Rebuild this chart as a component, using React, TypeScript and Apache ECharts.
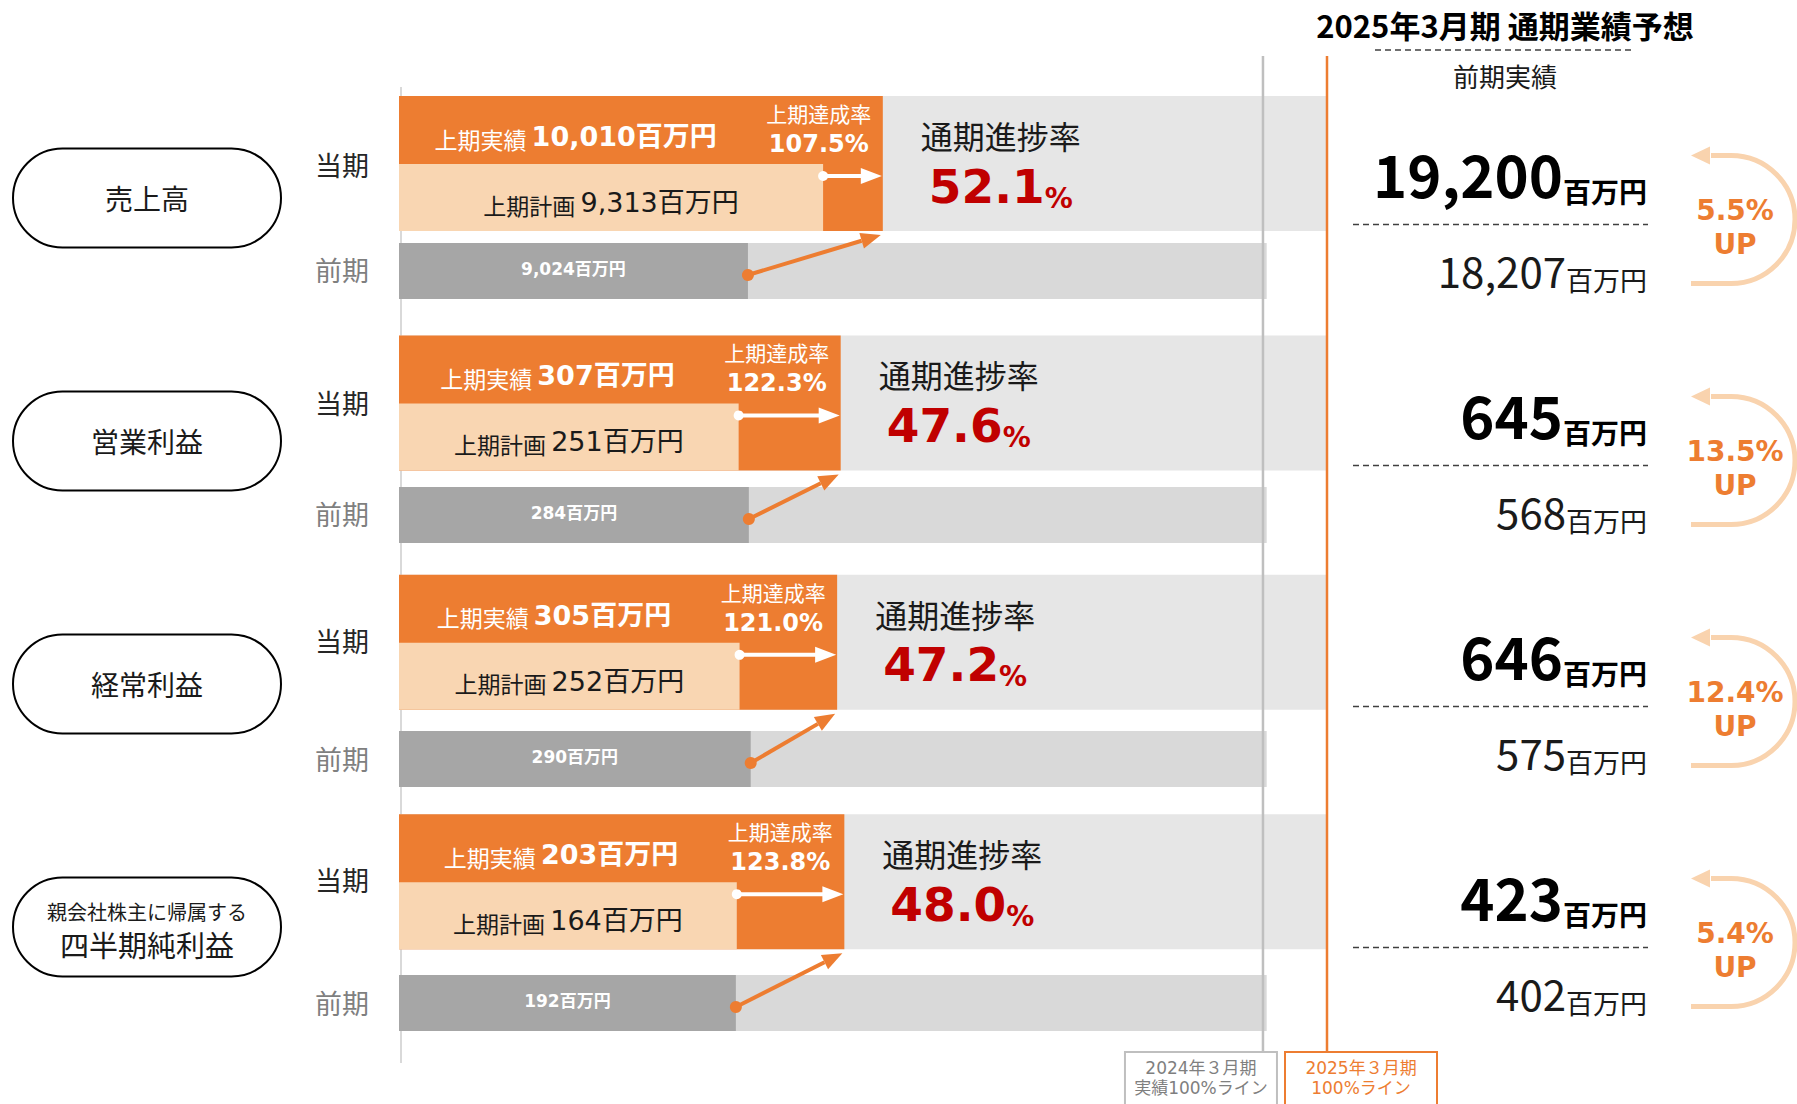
import React, { useEffect, useRef } from 'react';
import * as echarts from 'echarts';

const FONT = "'Noto Sans CJK JP', 'Noto Sans', sans-serif";
const FONT_WIDE = "'DejaVu Sans', 'Noto Sans CJK JP', sans-serif";
const ORANGE = '#ED7D31';
const PEACH = '#F9D6B2';
const DARKRED = '#C00000';
const ARROW_PEACH = '#F9D3AE';

// ---- data ----
const METRICS = ['売上高', '営業利益', '経常利益', '四半期純利益'];
const METRIC_NOTES = ['', '', '', '親会社株主に帰属する'];
const CURRENT_LABEL = '当期';
const PREV_LABEL = '前期';
const H1_ACTUAL = [10010, 307, 305, 203];
const H1_PLAN = [9313, 251, 252, 164];
const H1_PREV = [9024, 284, 290, 192];
const H1_ACHIEVEMENT = [107.5, 122.3, 121.0, 123.8];
const FY_PROGRESS = [52.1, 47.6, 47.2, 48.0];
const FY_FORECAST = [19200, 645, 646, 423];
const FY_PREV = [18207, 568, 575, 402];
const FY_GROWTH = [5.5, 13.5, 12.4, 5.4];
// plan / previous-year bar lengths as drawn in the picture, in % of the 2025 100% line
const BAR_PLAN = [45.7, 36.6, 36.7, 36.4];
const BAR_PREV = [37.6, 37.7, 37.9, 36.3];
const PREV_TRACK = 93.5;
const REF_LINES = [93.1, 100];
const REF_LABELS = [
  ['2024年３月期', '実績100%ライン'],
  ['2025年３月期', '100%ライン'],
];
const TITLE = '2025年3月期 通期業績予想';
const SUBTITLE = '前期実績';
const UNIT = '百万円';

const fmt = (v: number) => v.toLocaleString('en-US');

function txt(x: number, y: number, style: any, extra: any = {}) {
  return {
    type: 'text',
    x,
    y,
    style: { fontFamily: FONT, align: 'center', verticalAlign: 'middle', ...style },
    ...extra,
  };
}

function renderMetric(params: any, api: any) {
  const i = params.dataIndex;
  const cs = params.coordSys;
  const c0 = api.coord([0, i]);
  const x0 = c0[0];
  const cy = c0[1];
  const px = (v: number) => api.coord([v, i])[0];
  // H1 actual drawn to scale against the full-year forecast
  const xA = px((H1_ACTUAL[i] / FY_FORECAST[i]) * 100);
  const xP = px(BAR_PLAN[i]);
  const xV = px(BAR_PREV[i]);
  const x100 = px(100);
  const xTrack = px(PREV_TRACK);
  const top = cy - 101.5 - 1.6 * i;
  const h = 135;
  const planTop = top + 68;
  const prevTop = cy + 45.5 + 3 * i;
  const ph = 56;
  const els: any[] = [];

  if (i === 0) {
    els.push({
      type: 'line',
      shape: { x1: x0 + 2, y1: cs.y + 10, x2: x0 + 2, y2: cs.y + cs.height + 22 },
      style: { stroke: '#D9D9D9', lineWidth: 2 },
    });
  }
  // tracks
  els.push({ type: 'rect', shape: { x: x0, y: top, width: x100 - x0, height: h }, style: { fill: '#E6E6E6' } });
  els.push({ type: 'rect', shape: { x: x0, y: prevTop, width: xTrack - x0, height: ph }, style: { fill: '#D9D9D9' } });
  // bars
  els.push({ type: 'rect', shape: { x: x0, y: top, width: xA - x0, height: h }, style: { fill: ORANGE } });
  els.push({ type: 'rect', shape: { x: x0, y: planTop, width: xP - x0, height: top + h - planTop }, style: { fill: PEACH } });
  els.push({ type: 'rect', shape: { x: x0, y: prevTop, width: xV - x0, height: ph }, style: { fill: '#A6A6A6' } });

  // white arrow plan -> actual
  const ay = top + 80;
  els.push({ type: 'line', shape: { x1: xP, y1: ay, x2: xA - 20, y2: ay }, style: { stroke: '#fff', lineWidth: 4 } });
  els.push({ type: 'polygon', shape: { points: [[xA - 1, ay], [xA - 22, ay - 8], [xA - 22, ay + 8]] }, style: { fill: '#fff' } });
  els.push({ type: 'circle', shape: { cx: xP, cy: ay, r: 5 }, style: { fill: '#fff' } });

  // orange arrow prev -> actual
  const sx = xV, sy = prevTop + 32, ex = xA - 2, ey = top + h + 4;
  const dx = ex - sx, dy = ey - sy;
  const len = Math.hypot(dx, dy);
  const ux = dx / len, uy = dy / len;
  const bx = ex - ux * 20, by = ey - uy * 20;
  els.push({ type: 'line', shape: { x1: sx, y1: sy, x2: bx, y2: by }, style: { stroke: ORANGE, lineWidth: 4 } });
  els.push({
    type: 'polygon',
    shape: { points: [[ex, ey], [bx - uy * 8, by + ux * 8], [bx + uy * 8, by - ux * 8]] },
    style: { fill: ORANGE },
  });
  els.push({ type: 'circle', shape: { cx: sx, cy: sy, r: 6 }, style: { fill: ORANGE } });

  // labels in bars
  els.push(txt(xA - 166, top + 37, {
    text: `{a|上期実績 }{b|${fmt(H1_ACTUAL[i])}${UNIT}}`,
    align: 'right',
    rich: {
      a: { fontFamily: FONT, fontSize: 23, fill: '#fff', lineHeight: 34, verticalAlign: 'bottom' },
      b: { fontFamily: FONT_WIDE, fontSize: 27, fontWeight: 'bold', fill: '#fff', lineHeight: 34, verticalAlign: 'bottom' },
    },
  }));
  els.push(txt(xA - 64, top + 17, { text: '上期達成率', fontSize: 21, fill: '#fff', lineHeight: 24 }));
  els.push(txt(xA - 64, top + 48, {
    text: `${H1_ACHIEVEMENT[i].toFixed(1)}%`,
    fontFamily: FONT_WIDE, fontSize: 24, fontWeight: 'bold', fill: '#fff', lineHeight: 28,
  }));
  els.push(txt((x0 + xP) / 2, top + 103, {
    text: `{a|上期計画 }{b|${fmt(H1_PLAN[i])}${UNIT}}`,
    rich: {
      a: { fontFamily: FONT, fontSize: 23, fill: '#1A1A1A', lineHeight: 34, verticalAlign: 'bottom' },
      b: { fontFamily: FONT_WIDE, fontSize: 27, fill: '#1A1A1A', lineHeight: 34, verticalAlign: 'bottom' },
    },
  }));
  els.push(txt((x0 + xV) / 2, prevTop + 26, {
    text: `${fmt(H1_PREV[i])}${UNIT}`,
    fontFamily: FONT_WIDE, fontSize: 17, fontWeight: 'bold', fill: '#fff',
  }));

  // full year progress
  els.push(txt(xA + 118, top + 39, { text: '通期進捗率', fontSize: 32, fill: '#1A1A1A', lineHeight: 36 }));
  els.push(txt(xA + 118, top + 90, {
    text: `{v|${FY_PROGRESS[i].toFixed(1)}}{p|%}`,
    rich: {
      v: { fontFamily: FONT_WIDE, fontSize: 47, fontWeight: 'bold', fill: DARKRED, lineHeight: 52 },
      p: { fontFamily: FONT_WIDE, fontSize: 28, fontWeight: 'bold', fill: DARKRED, lineHeight: 40, verticalAlign: 'bottom' },
    },
  }));

  // left labels
  const pillY = cy + 0.5 + 2 * i;
  els.push({
    type: 'rect',
    shape: { x: x0 - 386, y: pillY - 49.5, width: 268, height: 99, r: 49.5 },
    style: { fill: '#fff', stroke: '#000', lineWidth: 2 },
  });
  if (METRIC_NOTES[i]) {
    els.push(txt(x0 - 252, pillY - 16, { text: METRIC_NOTES[i], fontSize: 20, fill: '#1A1A1A', lineHeight: 24 }));
    els.push(txt(x0 - 252, pillY + 17, { text: METRICS[i], fontSize: 29, fill: '#1A1A1A', lineHeight: 32 }));
  } else {
    els.push(txt(x0 - 252, pillY, { text: METRICS[i], fontSize: 28, fill: '#1A1A1A' }));
  }
  els.push(txt(x0 - 57, cy - 33.5 - 2.6 * i, { text: CURRENT_LABEL, fontSize: 27, fill: '#262626' }));
  els.push(txt(x0 - 57, cy + 72 + 3.3 * i, { text: PREV_LABEL, fontSize: 27, fill: '#7F7F7F' }));

  // right panel
  const rx = x100 + 320;
  els.push(txt(rx, cy - 25, {
    text: `{n|${fmt(FY_FORECAST[i])}}{u|${UNIT}}`,
    align: 'right',
    rich: {
      n: { fontFamily: FONT, fontSize: 58, fontWeight: 'bold', fill: '#000', lineHeight: 64 },
      u: { fontFamily: FONT, fontSize: 28, fontWeight: 'bold', fill: '#000', lineHeight: 48, verticalAlign: 'bottom' },
    },
  }));
  els.push({
    type: 'line',
    shape: { x1: x100 + 26, y1: cy + 27, x2: x100 + 321, y2: cy + 27 },
    style: { stroke: '#404040', lineWidth: 1.5, lineDash: [6, 4] },
  });
  els.push(txt(rx, cy + 72, {
    text: `{n|${fmt(FY_PREV[i])}}{u|${UNIT}}`,
    align: 'right',
    rich: {
      n: { fontFamily: FONT, fontSize: 42, fill: '#1A1A1A', lineHeight: 46 },
      u: { fontFamily: FONT, fontSize: 27, fill: '#1A1A1A', lineHeight: 43, verticalAlign: 'bottom' },
    },
  }));
  // curved arrow
  const acx = x100 + 404, acy = cy + 22, ar = 64;
  els.push({
    type: 'arc',
    shape: { cx: acx, cy: acy, r: ar, startAngle: -Math.PI / 2, endAngle: Math.PI / 2, clockwise: true },
    style: { stroke: ARROW_PEACH, lineWidth: 5, fill: 'none' },
  });
  els.push({ type: 'line', shape: { x1: acx, y1: acy + ar, x2: acx - 40, y2: acy + ar }, style: { stroke: ARROW_PEACH, lineWidth: 5 } });
  els.push({ type: 'line', shape: { x1: acx, y1: acy - ar, x2: acx - 20, y2: acy - ar }, style: { stroke: ARROW_PEACH, lineWidth: 5 } });
  els.push({
    type: 'polygon',
    shape: { points: [[acx - 40, acy - ar], [acx - 21, acy - ar - 9], [acx - 21, acy - ar + 9]] },
    style: { fill: ARROW_PEACH },
  });
  els.push(txt(x100 + 408, cy + 13, {
    text: `${FY_GROWTH[i].toFixed(1)}%`, fontFamily: FONT_WIDE, fontSize: 28, fontWeight: 'bold', fill: ORANGE, lineHeight: 30,
  }));
  els.push(txt(x100 + 408, cy + 47, {
    text: 'UP', fontFamily: FONT_WIDE, fontSize: 28, fontWeight: 'bold', fill: ORANGE, lineHeight: 30,
  }));

  return { type: 'group', children: els };
}

function renderRefLine(params: any, api: any) {
  const i = params.dataIndex;
  const cs = params.coordSys;
  const x = api.coord([api.value(0), 0])[0];
  const isCur = i === 1;
  const color = isCur ? ORANGE : '#BFBFBF';
  const textColor = isCur ? ORANGE : '#7F7F7F';
  const boxX = isCur ? x - 42 : x - 138;
  const boxY = cs.y + cs.height + 11;
  return {
    type: 'group',
    children: [
      {
        type: 'line',
        shape: { x1: x, y1: cs.y - 21, x2: x, y2: boxY },
        style: { stroke: color, lineWidth: 2.5 },
      },
      {
        type: 'rect',
        shape: { x: boxX, y: boxY, width: 152, height: 60 },
        style: { fill: '#fff', stroke: color, lineWidth: 2 },
      },
      txt(boxX + 76, boxY + 16, { text: REF_LABELS[i][0], fontFamily: FONT_WIDE, fontSize: 17, fill: textColor, lineHeight: 18 }),
      txt(boxX + 76, boxY + 35.5, { text: REF_LABELS[i][1], fontFamily: FONT_WIDE, fontSize: 17, fill: textColor, lineHeight: 18 }),
    ],
  };
}

export default function App() {
  const ref = useRef<HTMLDivElement>(null);
  useEffect(() => {
    if (!ref.current) return;
    const chart = echarts.init(ref.current, undefined, { renderer: 'svg' });
    const option: any = {
      animation: false,
      backgroundColor: '#fff',
      grid: { left: 399, width: 928, top: 77, height: 964 },
      xAxis: { type: 'value', min: 0, max: 100, show: false },
      yAxis: { type: 'category', data: METRICS, inverse: true, show: false },
      graphic: [
        txt(1505, 24, { text: TITLE, fontSize: 31, fontWeight: 'bold', fill: '#000' }),
        {
          type: 'line',
          shape: { x1: 1375, y1: 50, x2: 1633, y2: 50 },
          style: { stroke: '#404040', lineWidth: 1.5, lineDash: [6, 4] },
        },
        txt(1505, 75, { text: SUBTITLE, fontSize: 26, fill: '#1A1A1A' }),
      ],
      series: [
        {
          type: 'custom',
          name: 'metrics',
          coordinateSystem: 'cartesian2d',
          clip: false,
          z: 2,
          encode: { x: 0, y: 1 },
          data: METRICS.map((_, i) => [0, i]),
          renderItem: renderMetric,
        },
        {
          type: 'custom',
          name: 'refLines',
          coordinateSystem: 'cartesian2d',
          clip: false,
          z: 3,
          encode: { x: 0, y: 1 },
          data: REF_LINES.map((v) => [v, 0]),
          renderItem: renderRefLine,
        },
      ],
    };
    chart.setOption(option);
    return () => chart.dispose();
  }, []);
  return (
    <div
      ref={ref}
      style={{ position: 'fixed', left: 0, top: 0, width: 1797, height: 1104, background: '#fff' }}
    />
  );
}
